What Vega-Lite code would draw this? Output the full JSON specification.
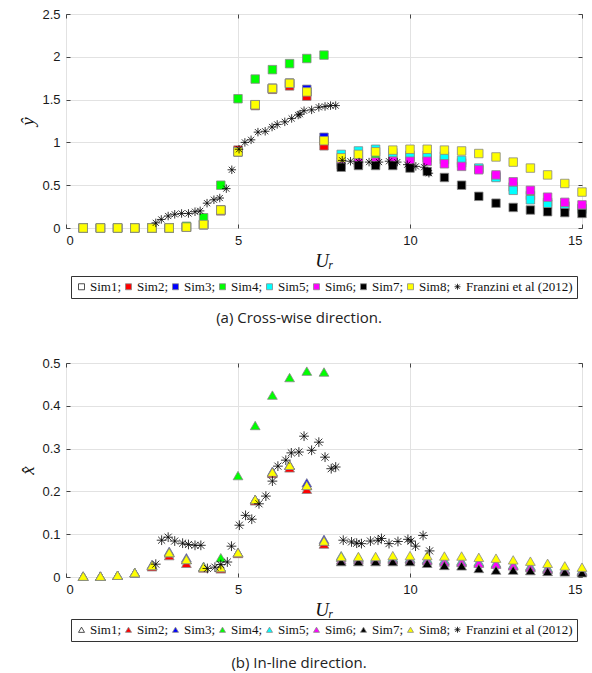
{
  "$schema": "https://vega.github.io/schema/vega-lite/v6.json",
  "padding": {"left": 18, "top": 7, "right": 4, "bottom": 4},
  "spacing": 30,
  "resolve": {"scale": {"shape": "independent", "fill": "independent", "stroke": "independent", "x": "independent", "y": "independent"}, "legend": {"shape": "independent", "fill": "independent", "stroke": "independent"}},
  "config": {
    "view": {"stroke": "#444", "strokeWidth": 1},
    "axis": {"labelFont": "Liberation Sans", "labelFontSize": 13, "labelColor": "#1a1a1a", "gridColor": "#e2e2e2", "domain": false, "tickColor": "#444", "tickSize": -4, "labelPadding": 10, "titleFont": "Liberation Serif", "titleFontStyle": "italic", "titleFontWeight": "normal", "titleFontSize": 19, "titleColor": "#111"},
    "legend": {"orient": "none", "direction": "horizontal", "columns": 9, "columnPadding": 0, "symbolSize": 36, "labelFont": "Liberation Serif", "labelFontSize": 13, "labelColor": "#111", "labelOffset": 2, "strokeColor": "#333", "padding": 4, "title": null, "symbolStrokeWidth": 0.8},
    "title": {"font": "Open Sans", "fontSize": 15, "fontWeight": "normal", "color": "#222", "orient": "bottom", "anchor": "middle"}
  },
  "datasets": {
    "cross": [
      {"series":"Sim1","Ur":0.5,"value":0},{"series":"Sim1","Ur":1,"value":0},{"series":"Sim1","Ur":1.5,"value":0},{"series":"Sim1","Ur":2,"value":0},{"series":"Sim1","Ur":2.5,"value":0},{"series":"Sim1","Ur":3,"value":0},{"series":"Sim1","Ur":3.5,"value":0.01},{"series":"Sim1","Ur":4,"value":0.04},{"series":"Sim1","Ur":4.5,"value":0.21},{"series":"Sim1","Ur":5,"value":0.89},{"series":"Sim1","Ur":5.5,"value":1.44},{"series":"Sim1","Ur":6,"value":1.63},{"series":"Sim1","Ur":6.5,"value":1.69},{"series":"Sim1","Ur":7,"value":1.59},{"series":"Sim1","Ur":7.5,"value":1.02},
      {"series":"Sim2","Ur":0.5,"value":0},{"series":"Sim2","Ur":1,"value":0},{"series":"Sim2","Ur":1.5,"value":0},{"series":"Sim2","Ur":2,"value":0},{"series":"Sim2","Ur":2.5,"value":0},{"series":"Sim2","Ur":3,"value":0},{"series":"Sim2","Ur":3.5,"value":0.01},{"series":"Sim2","Ur":4,"value":0.04},{"series":"Sim2","Ur":4.5,"value":0.2},{"series":"Sim2","Ur":5,"value":0.91},{"series":"Sim2","Ur":5.5,"value":1.43},{"series":"Sim2","Ur":6,"value":1.62},{"series":"Sim2","Ur":6.5,"value":1.66},{"series":"Sim2","Ur":7,"value":1.54},{"series":"Sim2","Ur":7.5,"value":0.96},
      {"series":"Sim3","Ur":0.5,"value":0},{"series":"Sim3","Ur":1,"value":0},{"series":"Sim3","Ur":1.5,"value":0},{"series":"Sim3","Ur":2,"value":0},{"series":"Sim3","Ur":2.5,"value":0},{"series":"Sim3","Ur":3,"value":0},{"series":"Sim3","Ur":3.5,"value":0.01},{"series":"Sim3","Ur":4,"value":0.04},{"series":"Sim3","Ur":4.5,"value":0.21},{"series":"Sim3","Ur":5,"value":0.89},{"series":"Sim3","Ur":5.5,"value":1.44},{"series":"Sim3","Ur":6,"value":1.63},{"series":"Sim3","Ur":6.5,"value":1.69},{"series":"Sim3","Ur":7,"value":1.62},{"series":"Sim3","Ur":7.5,"value":1.06},
      {"series":"Sim4","Ur":0.5,"value":0},{"series":"Sim4","Ur":1,"value":0},{"series":"Sim4","Ur":1.5,"value":0},{"series":"Sim4","Ur":2,"value":0},{"series":"Sim4","Ur":2.5,"value":0},{"series":"Sim4","Ur":3,"value":0},{"series":"Sim4","Ur":3.5,"value":0.02},{"series":"Sim4","Ur":4,"value":0.12},{"series":"Sim4","Ur":4.5,"value":0.5},{"series":"Sim4","Ur":5,"value":1.51},{"series":"Sim4","Ur":5.5,"value":1.74},{"series":"Sim4","Ur":6,"value":1.85},{"series":"Sim4","Ur":6.5,"value":1.92},{"series":"Sim4","Ur":7,"value":1.98},{"series":"Sim4","Ur":7.5,"value":2.02},
      {"series":"Sim4","Ur":8,"value":0.77},{"series":"Sim4","Ur":8.5,"value":0.8},{"series":"Sim4","Ur":9,"value":0.83},{"series":"Sim4","Ur":9.5,"value":0.84},{"series":"Sim4","Ur":10,"value":0.83},{"series":"Sim4","Ur":10.5,"value":0.82},{"series":"Sim4","Ur":11,"value":0.8},{"series":"Sim4","Ur":11.5,"value":0.76},{"series":"Sim4","Ur":12,"value":0.69},{"series":"Sim4","Ur":12.5,"value":0.6},{"series":"Sim4","Ur":13,"value":0.48},{"series":"Sim4","Ur":13.5,"value":0.38},{"series":"Sim4","Ur":14,"value":0.3},{"series":"Sim4","Ur":14.5,"value":0.26},{"series":"Sim4","Ur":15,"value":0.23},
      {"series":"Sim5","Ur":8,"value":0.86},{"series":"Sim5","Ur":8.5,"value":0.9},{"series":"Sim5","Ur":9,"value":0.92},{"series":"Sim5","Ur":9.5,"value":0.88},{"series":"Sim5","Ur":10,"value":0.85},{"series":"Sim5","Ur":10.5,"value":0.85},{"series":"Sim5","Ur":11,"value":0.84},{"series":"Sim5","Ur":11.5,"value":0.79},{"series":"Sim5","Ur":12,"value":0.7},{"series":"Sim5","Ur":12.5,"value":0.59},{"series":"Sim5","Ur":13,"value":0.44},{"series":"Sim5","Ur":13.5,"value":0.33},{"series":"Sim5","Ur":14,"value":0.28},{"series":"Sim5","Ur":14.5,"value":0.25},{"series":"Sim5","Ur":15,"value":0.22},
      {"series":"Sim6","Ur":8,"value":0.74},{"series":"Sim6","Ur":8.5,"value":0.76},{"series":"Sim6","Ur":9,"value":0.77},{"series":"Sim6","Ur":9.5,"value":0.78},{"series":"Sim6","Ur":10,"value":0.78},{"series":"Sim6","Ur":10.5,"value":0.78},{"series":"Sim6","Ur":11,"value":0.75},{"series":"Sim6","Ur":11.5,"value":0.72},{"series":"Sim6","Ur":12,"value":0.68},{"series":"Sim6","Ur":12.5,"value":0.62},{"series":"Sim6","Ur":13,"value":0.54},{"series":"Sim6","Ur":13.5,"value":0.44},{"series":"Sim6","Ur":14,"value":0.36},{"series":"Sim6","Ur":14.5,"value":0.3},{"series":"Sim6","Ur":15,"value":0.27},
      {"series":"Sim7","Ur":8,"value":0.71},{"series":"Sim7","Ur":8.5,"value":0.73},{"series":"Sim7","Ur":9,"value":0.73},{"series":"Sim7","Ur":9.5,"value":0.73},{"series":"Sim7","Ur":10,"value":0.7},{"series":"Sim7","Ur":10.5,"value":0.66},{"series":"Sim7","Ur":11,"value":0.59},{"series":"Sim7","Ur":11.5,"value":0.5},{"series":"Sim7","Ur":12,"value":0.37},{"series":"Sim7","Ur":12.5,"value":0.29},{"series":"Sim7","Ur":13,"value":0.24},{"series":"Sim7","Ur":13.5,"value":0.21},{"series":"Sim7","Ur":14,"value":0.19},{"series":"Sim7","Ur":14.5,"value":0.18},{"series":"Sim7","Ur":15,"value":0.17},
      {"series":"Sim8","Ur":0.5,"value":0},{"series":"Sim8","Ur":1,"value":0},{"series":"Sim8","Ur":1.5,"value":0},{"series":"Sim8","Ur":2,"value":0},{"series":"Sim8","Ur":2.5,"value":0},{"series":"Sim8","Ur":3,"value":0},{"series":"Sim8","Ur":3.5,"value":0.01},{"series":"Sim8","Ur":4,"value":0.04},{"series":"Sim8","Ur":4.5,"value":0.21},{"series":"Sim8","Ur":5,"value":0.89},{"series":"Sim8","Ur":5.5,"value":1.44},{"series":"Sim8","Ur":6,"value":1.63},{"series":"Sim8","Ur":6.5,"value":1.69},{"series":"Sim8","Ur":7,"value":1.59},{"series":"Sim8","Ur":7.5,"value":1.02},
      {"series":"Sim8","Ur":8,"value":0.82},{"series":"Sim8","Ur":8.5,"value":0.86},{"series":"Sim8","Ur":9,"value":0.89},{"series":"Sim8","Ur":9.5,"value":0.91},{"series":"Sim8","Ur":10,"value":0.92},{"series":"Sim8","Ur":10.5,"value":0.92},{"series":"Sim8","Ur":11,"value":0.91},{"series":"Sim8","Ur":11.5,"value":0.9},{"series":"Sim8","Ur":12,"value":0.87},{"series":"Sim8","Ur":12.5,"value":0.83},{"series":"Sim8","Ur":13,"value":0.77},{"series":"Sim8","Ur":13.5,"value":0.7},{"series":"Sim8","Ur":14,"value":0.62},{"series":"Sim8","Ur":14.5,"value":0.52},{"series":"Sim8","Ur":15,"value":0.42},
      {"series":"Franzini et al (2012)","Ur":2.61,"value":0.06},{"series":"Franzini et al (2012)","Ur":2.77,"value":0.1},{"series":"Franzini et al (2012)","Ur":2.97,"value":0.14},{"series":"Franzini et al (2012)","Ur":3.16,"value":0.16},{"series":"Franzini et al (2012)","Ur":3.36,"value":0.17},{"series":"Franzini et al (2012)","Ur":3.56,"value":0.17},{"series":"Franzini et al (2012)","Ur":3.75,"value":0.19},{"series":"Franzini et al (2012)","Ur":3.9,"value":0.2},{"series":"Franzini et al (2012)","Ur":4.1,"value":0.29},{"series":"Franzini et al (2012)","Ur":4.3,"value":0.33},{"series":"Franzini et al (2012)","Ur":4.47,"value":0.35},{"series":"Franzini et al (2012)","Ur":4.66,"value":0.46},{"series":"Franzini et al (2012)","Ur":4.82,"value":0.68},{"series":"Franzini et al (2012)","Ur":5.03,"value":0.92},{"series":"Franzini et al (2012)","Ur":5.2,"value":1.0},{"series":"Franzini et al (2012)","Ur":5.38,"value":1.03},{"series":"Franzini et al (2012)","Ur":5.58,"value":1.12},{"series":"Franzini et al (2012)","Ur":5.79,"value":1.13},{"series":"Franzini et al (2012)","Ur":5.99,"value":1.18},{"series":"Franzini et al (2012)","Ur":6.14,"value":1.21},{"series":"Franzini et al (2012)","Ur":6.36,"value":1.24},{"series":"Franzini et al (2012)","Ur":6.56,"value":1.28},{"series":"Franzini et al (2012)","Ur":6.75,"value":1.32},{"series":"Franzini et al (2012)","Ur":6.8,"value":1.33},{"series":"Franzini et al (2012)","Ur":6.92,"value":1.37},{"series":"Franzini et al (2012)","Ur":7.14,"value":1.38},{"series":"Franzini et al (2012)","Ur":7.35,"value":1.41},{"series":"Franzini et al (2012)","Ur":7.53,"value":1.42},{"series":"Franzini et al (2012)","Ur":7.69,"value":1.43},{"series":"Franzini et al (2012)","Ur":7.84,"value":1.43},{"series":"Franzini et al (2012)","Ur":8.03,"value":0.79},{"series":"Franzini et al (2012)","Ur":8.27,"value":0.78},{"series":"Franzini et al (2012)","Ur":8.52,"value":0.77},{"series":"Franzini et al (2012)","Ur":8.81,"value":0.77},{"series":"Franzini et al (2012)","Ur":9.1,"value":0.77},{"series":"Franzini et al (2012)","Ur":9.39,"value":0.78},{"series":"Franzini et al (2012)","Ur":9.63,"value":0.77},{"series":"Franzini et al (2012)","Ur":9.92,"value":0.74},{"series":"Franzini et al (2012)","Ur":10.17,"value":0.72},{"series":"Franzini et al (2012)","Ur":10.41,"value":0.71},{"series":"Franzini et al (2012)","Ur":10.55,"value":0.64}
    ],
    "inline": [
      {"series":"Sim1","Ur":0.5,"value":0.002},{"series":"Sim1","Ur":1,"value":0.002},{"series":"Sim1","Ur":1.5,"value":0.004},{"series":"Sim1","Ur":2,"value":0.01},{"series":"Sim1","Ur":2.5,"value":0.027},{"series":"Sim1","Ur":3,"value":0.057},{"series":"Sim1","Ur":3.5,"value":0.041},{"series":"Sim1","Ur":4,"value":0.023},{"series":"Sim1","Ur":4.5,"value":0.022},{"series":"Sim1","Ur":5,"value":0.057},{"series":"Sim1","Ur":5.5,"value":0.181},{"series":"Sim1","Ur":6,"value":0.245},{"series":"Sim1","Ur":6.5,"value":0.261},{"series":"Sim1","Ur":7,"value":0.214},{"series":"Sim1","Ur":7.5,"value":0.084},
      {"series":"Sim2","Ur":0.5,"value":0.002},{"series":"Sim2","Ur":1,"value":0.002},{"series":"Sim2","Ur":1.5,"value":0.004},{"series":"Sim2","Ur":2,"value":0.01},{"series":"Sim2","Ur":2.5,"value":0.024},{"series":"Sim2","Ur":3,"value":0.05},{"series":"Sim2","Ur":3.5,"value":0.032},{"series":"Sim2","Ur":4,"value":0.021},{"series":"Sim2","Ur":4.5,"value":0.019},{"series":"Sim2","Ur":5,"value":0.055},{"series":"Sim2","Ur":5.5,"value":0.178},{"series":"Sim2","Ur":6,"value":0.242},{"series":"Sim2","Ur":6.5,"value":0.255},{"series":"Sim2","Ur":7,"value":0.205},{"series":"Sim2","Ur":7.5,"value":0.077},
      {"series":"Sim3","Ur":0.5,"value":0.002},{"series":"Sim3","Ur":1,"value":0.002},{"series":"Sim3","Ur":1.5,"value":0.004},{"series":"Sim3","Ur":2,"value":0.01},{"series":"Sim3","Ur":2.5,"value":0.029},{"series":"Sim3","Ur":3,"value":0.06},{"series":"Sim3","Ur":3.5,"value":0.045},{"series":"Sim3","Ur":4,"value":0.024},{"series":"Sim3","Ur":4.5,"value":0.022},{"series":"Sim3","Ur":5,"value":0.057},{"series":"Sim3","Ur":5.5,"value":0.181},{"series":"Sim3","Ur":6,"value":0.247},{"series":"Sim3","Ur":6.5,"value":0.262},{"series":"Sim3","Ur":7,"value":0.22},{"series":"Sim3","Ur":7.5,"value":0.088},
      {"series":"Sim4","Ur":0.5,"value":0.002},{"series":"Sim4","Ur":1,"value":0.002},{"series":"Sim4","Ur":1.5,"value":0.004},{"series":"Sim4","Ur":2,"value":0.01},{"series":"Sim4","Ur":2.5,"value":0.027},{"series":"Sim4","Ur":3,"value":0.057},{"series":"Sim4","Ur":3.5,"value":0.041},{"series":"Sim4","Ur":4,"value":0.025},{"series":"Sim4","Ur":4.5,"value":0.045},{"series":"Sim4","Ur":5,"value":0.237},{"series":"Sim4","Ur":5.5,"value":0.354},{"series":"Sim4","Ur":6,"value":0.425},{"series":"Sim4","Ur":6.5,"value":0.466},{"series":"Sim4","Ur":7,"value":0.481},{"series":"Sim4","Ur":7.5,"value":0.479},
      {"series":"Sim4","Ur":8,"value":0.046},{"series":"Sim4","Ur":8.5,"value":0.044},{"series":"Sim4","Ur":9,"value":0.043},{"series":"Sim4","Ur":9.5,"value":0.043},{"series":"Sim4","Ur":10,"value":0.043},{"series":"Sim4","Ur":10.5,"value":0.041},{"series":"Sim4","Ur":11,"value":0.038},{"series":"Sim4","Ur":11.5,"value":0.036},{"series":"Sim4","Ur":12,"value":0.034},{"series":"Sim4","Ur":12.5,"value":0.031},{"series":"Sim4","Ur":13,"value":0.027},{"series":"Sim4","Ur":13.5,"value":0.024},{"series":"Sim4","Ur":14,"value":0.02},{"series":"Sim4","Ur":14.5,"value":0.017},{"series":"Sim4","Ur":15,"value":0.014},
      {"series":"Sim5","Ur":8,"value":0.05},{"series":"Sim5","Ur":8.5,"value":0.046},{"series":"Sim5","Ur":9,"value":0.045},{"series":"Sim5","Ur":9.5,"value":0.045},{"series":"Sim5","Ur":10,"value":0.044},{"series":"Sim5","Ur":10.5,"value":0.042},{"series":"Sim5","Ur":11,"value":0.04},{"series":"Sim5","Ur":11.5,"value":0.038},{"series":"Sim5","Ur":12,"value":0.036},{"series":"Sim5","Ur":12.5,"value":0.033},{"series":"Sim5","Ur":13,"value":0.029},{"series":"Sim5","Ur":13.5,"value":0.026},{"series":"Sim5","Ur":14,"value":0.022},{"series":"Sim5","Ur":14.5,"value":0.019},{"series":"Sim5","Ur":15,"value":0.016},
      {"series":"Sim6","Ur":8,"value":0.04},{"series":"Sim6","Ur":8.5,"value":0.04},{"series":"Sim6","Ur":9,"value":0.04},{"series":"Sim6","Ur":9.5,"value":0.04},{"series":"Sim6","Ur":10,"value":0.04},{"series":"Sim6","Ur":10.5,"value":0.038},{"series":"Sim6","Ur":11,"value":0.035},{"series":"Sim6","Ur":11.5,"value":0.034},{"series":"Sim6","Ur":12,"value":0.032},{"series":"Sim6","Ur":12.5,"value":0.03},{"series":"Sim6","Ur":13,"value":0.026},{"series":"Sim6","Ur":13.5,"value":0.022},{"series":"Sim6","Ur":14,"value":0.018},{"series":"Sim6","Ur":14.5,"value":0.016},{"series":"Sim6","Ur":15,"value":0.013},
      {"series":"Sim7","Ur":8,"value":0.036},{"series":"Sim7","Ur":8.5,"value":0.036},{"series":"Sim7","Ur":9,"value":0.036},{"series":"Sim7","Ur":9.5,"value":0.036},{"series":"Sim7","Ur":10,"value":0.036},{"series":"Sim7","Ur":10.5,"value":0.032},{"series":"Sim7","Ur":11,"value":0.027},{"series":"Sim7","Ur":11.5,"value":0.026},{"series":"Sim7","Ur":12,"value":0.02},{"series":"Sim7","Ur":12.5,"value":0.016},{"series":"Sim7","Ur":13,"value":0.016},{"series":"Sim7","Ur":13.5,"value":0.015},{"series":"Sim7","Ur":14,"value":0.013},{"series":"Sim7","Ur":14.5,"value":0.012},{"series":"Sim7","Ur":15,"value":0.01},
      {"series":"Sim8","Ur":0.5,"value":0.002},{"series":"Sim8","Ur":1,"value":0.002},{"series":"Sim8","Ur":1.5,"value":0.004},{"series":"Sim8","Ur":2,"value":0.01},{"series":"Sim8","Ur":2.5,"value":0.027},{"series":"Sim8","Ur":3,"value":0.057},{"series":"Sim8","Ur":3.5,"value":0.041},{"series":"Sim8","Ur":4,"value":0.023},{"series":"Sim8","Ur":4.5,"value":0.022},{"series":"Sim8","Ur":5,"value":0.057},{"series":"Sim8","Ur":5.5,"value":0.181},{"series":"Sim8","Ur":6,"value":0.245},{"series":"Sim8","Ur":6.5,"value":0.261},{"series":"Sim8","Ur":7,"value":0.214},{"series":"Sim8","Ur":7.5,"value":0.084},
      {"series":"Sim8","Ur":8,"value":0.048},{"series":"Sim8","Ur":8.5,"value":0.048},{"series":"Sim8","Ur":9,"value":0.048},{"series":"Sim8","Ur":9.5,"value":0.05},{"series":"Sim8","Ur":10,"value":0.05},{"series":"Sim8","Ur":10.5,"value":0.05},{"series":"Sim8","Ur":11,"value":0.049},{"series":"Sim8","Ur":11.5,"value":0.049},{"series":"Sim8","Ur":12,"value":0.046},{"series":"Sim8","Ur":12.5,"value":0.044},{"series":"Sim8","Ur":13,"value":0.04},{"series":"Sim8","Ur":13.5,"value":0.037},{"series":"Sim8","Ur":14,"value":0.032},{"series":"Sim8","Ur":14.5,"value":0.026},{"series":"Sim8","Ur":15,"value":0.023},
      {"series":"Franzini et al (2012)","Ur":2.61,"value":0.03},{"series":"Franzini et al (2012)","Ur":2.78,"value":0.086},{"series":"Franzini et al (2012)","Ur":2.97,"value":0.093},{"series":"Franzini et al (2012)","Ur":3.16,"value":0.084},{"series":"Franzini et al (2012)","Ur":3.39,"value":0.079},{"series":"Franzini et al (2012)","Ur":3.56,"value":0.076},{"series":"Franzini et al (2012)","Ur":3.75,"value":0.074},{"series":"Franzini et al (2012)","Ur":3.92,"value":0.074},{"series":"Franzini et al (2012)","Ur":4.11,"value":0.02},{"series":"Franzini et al (2012)","Ur":4.33,"value":0.023},{"series":"Franzini et al (2012)","Ur":4.5,"value":0.029},{"series":"Franzini et al (2012)","Ur":4.69,"value":0.035},{"series":"Franzini et al (2012)","Ur":4.81,"value":0.072},{"series":"Franzini et al (2012)","Ur":5.04,"value":0.121},{"series":"Franzini et al (2012)","Ur":5.22,"value":0.144},{"series":"Franzini et al (2012)","Ur":5.4,"value":0.135},{"series":"Franzini et al (2012)","Ur":5.61,"value":0.171},{"series":"Franzini et al (2012)","Ur":5.81,"value":0.189},{"series":"Franzini et al (2012)","Ur":6.0,"value":0.224},{"series":"Franzini et al (2012)","Ur":6.16,"value":0.259},{"series":"Franzini et al (2012)","Ur":6.39,"value":0.273},{"series":"Franzini et al (2012)","Ur":6.55,"value":0.29},{"series":"Franzini et al (2012)","Ur":6.77,"value":0.292},{"series":"Franzini et al (2012)","Ur":6.92,"value":0.329},{"series":"Franzini et al (2012)","Ur":7.14,"value":0.296},{"series":"Franzini et al (2012)","Ur":7.35,"value":0.315},{"series":"Franzini et al (2012)","Ur":7.53,"value":0.28},{"series":"Franzini et al (2012)","Ur":7.71,"value":0.253},{"series":"Franzini et al (2012)","Ur":7.84,"value":0.257},{"series":"Franzini et al (2012)","Ur":8.06,"value":0.086},{"series":"Franzini et al (2012)","Ur":8.3,"value":0.082},{"series":"Franzini et al (2012)","Ur":8.45,"value":0.079},{"series":"Franzini et al (2012)","Ur":8.59,"value":0.078},{"series":"Franzini et al (2012)","Ur":8.85,"value":0.084},{"series":"Franzini et al (2012)","Ur":9.07,"value":0.086},{"series":"Franzini et al (2012)","Ur":9.17,"value":0.09},{"series":"Franzini et al (2012)","Ur":9.39,"value":0.078},{"series":"Franzini et al (2012)","Ur":9.65,"value":0.083},{"series":"Franzini et al (2012)","Ur":9.94,"value":0.088},{"series":"Franzini et al (2012)","Ur":10.03,"value":0.084},{"series":"Franzini et al (2012)","Ur":10.16,"value":0.072},{"series":"Franzini et al (2012)","Ur":10.38,"value":0.097},{"series":"Franzini et al (2012)","Ur":10.57,"value":0.061}
    ]
  },
  "vconcat": [
    {
      "width": 516, "height": 214,
      "data": {"name": "cross"},
      "title": {"text": "(a) Cross-wise direction.", "dx": -25, "dy": 8},
      "layer": [
        {
          "mark": {"type": "point", "filled": true, "size": 72, "strokeWidth": 0.8, "opacity": 1},
          "encoding": {
            "x": {"field": "Ur", "type": "quantitative", "scale": {"domain": [0, 15], "nice": false}, "axis": {"values": [0, 5, 10, 15], "title": "Uᵣ"}},
            "y": {"field": "value", "type": "quantitative", "scale": {"domain": [0, 2.5], "nice": false}, "axis": {"values": [0, 0.5, 1, 1.5, 2, 2.5], "format": "~g", "title": "ŷ"}},
            "shape": {"field": "series", "type": "nominal", "scale": {"domain": ["Sim1","Sim2","Sim3","Sim4","Sim5","Sim6","Sim7","Sim8","Franzini et al (2012)"], "range": ["square","square","square","square","square","square","square","square","M-1,0L1,0M0,-1L0,1M-0.72,-0.72L0.72,0.72M-0.72,0.72L0.72,-0.72"]},
              "legend": {"legendX": 5, "legendY": 262, "labelExpr": "datum.label == 'Franzini et al (2012)' ? datum.label : datum.label + ';'"}},
            "fill": {"field": "series", "type": "nominal", "scale": {"domain": ["Sim1","Sim2","Sim3","Sim4","Sim5","Sim6","Sim7","Sim8","Franzini et al (2012)"], "range": ["#ffffff","#ff0000","#0000ff","#00ff00","#00ffff","#ff00ff","#000000","#ffff00","#000000"]}},
            "stroke": {"field": "series", "type": "nominal", "scale": {"domain": ["Sim1","Sim2","Sim3","Sim4","Sim5","Sim6","Sim7","Sim8","Franzini et al (2012)"], "range": ["#222222","#888888","#888888","#888888","#888888","#888888","#888888","#888888","#000000"]}}
          }
        },
        {
          "mark": {"type": "point", "opacity": 0},
          "encoding": {
            "x": {"field": "Ur", "type": "quantitative", "axis": {"orient": "top", "values": [0, 5, 10, 15], "labels": false, "grid": false, "title": null}},
            "y": {"field": "value", "type": "quantitative", "axis": {"orient": "right", "values": [0, 0.5, 1, 1.5, 2, 2.5], "labels": false, "grid": false, "title": null}}
          }
        }
      ],
      "resolve": {"axis": {"x": "independent", "y": "independent"}}
    },
    {
      "width": 516, "height": 214,
      "data": {"name": "inline"},
      "title": {"text": "(b) In-line direction.", "dx": -25, "dy": 10},
      "layer": [
        {
          "mark": {"type": "point", "filled": true, "size": 95, "strokeWidth": 0.8, "opacity": 1},
          "encoding": {
            "x": {"field": "Ur", "type": "quantitative", "scale": {"domain": [0, 15], "nice": false}, "axis": {"values": [0, 5, 10, 15], "title": "Uᵣ"}},
            "y": {"field": "value", "type": "quantitative", "scale": {"domain": [0, 0.5], "nice": false}, "axis": {"values": [0, 0.1, 0.2, 0.3, 0.4, 0.5], "format": "~g", "title": "x̂"}},
            "shape": {"field": "series", "type": "nominal", "scale": {"domain": ["Sim1","Sim2","Sim3","Sim4","Sim5","Sim6","Sim7","Sim8","Franzini et al (2012)"], "range": ["triangle-up","triangle-up","triangle-up","triangle-up","triangle-up","triangle-up","triangle-up","triangle-up","M-1,0L1,0M0,-1L0,1M-0.72,-0.72L0.72,0.72M-0.72,0.72L0.72,-0.72"]},
              "legend": {"legendX": 5, "legendY": 256, "labelExpr": "datum.label == 'Franzini et al (2012)' ? datum.label : datum.label + ';'"}},
            "fill": {"field": "series", "type": "nominal", "scale": {"domain": ["Sim1","Sim2","Sim3","Sim4","Sim5","Sim6","Sim7","Sim8","Franzini et al (2012)"], "range": ["#ffffff","#ff0000","#0000ff","#00ff00","#00ffff","#ff00ff","#000000","#ffff00","#000000"]}},
            "stroke": {"field": "series", "type": "nominal", "scale": {"domain": ["Sim1","Sim2","Sim3","Sim4","Sim5","Sim6","Sim7","Sim8","Franzini et al (2012)"], "range": ["#222222","#888888","#888888","#888888","#888888","#888888","#888888","#888888","#000000"]}}
          }
        },
        {
          "mark": {"type": "point", "opacity": 0},
          "encoding": {
            "x": {"field": "Ur", "type": "quantitative", "axis": {"orient": "top", "values": [0, 5, 10, 15], "labels": false, "grid": false, "title": null}},
            "y": {"field": "value", "type": "quantitative", "axis": {"orient": "right", "values": [0, 0.1, 0.2, 0.3, 0.4, 0.5], "labels": false, "grid": false, "title": null}}
          }
        }
      ],
      "resolve": {"axis": {"x": "independent", "y": "independent"}}
    }
  ]
}
